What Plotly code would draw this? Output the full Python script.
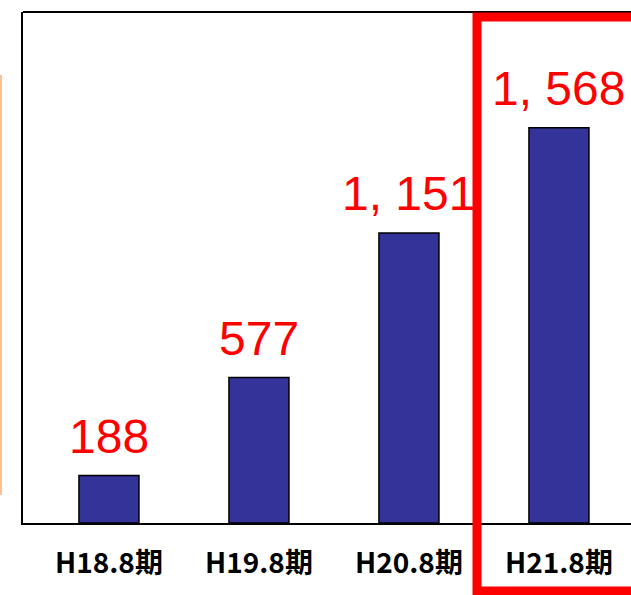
import plotly.graph_objects as go

categories = ["H18.8期", "H19.8期", "H20.8期", "H21.8期"]
values = [188, 577, 1151, 1568]
value_labels = ["188", "577", "1, 151", "1, 568"]

W, H = 631, 595
L, R, T, B = 23, 0, 12, 72
pw, ph = W - L - R, H - T - B

def px_x(px):
    return (px - L) / pw

def px_y(py):
    return (H - B - py) / ph

fig = go.Figure()
fig.add_trace(go.Bar(
    x=categories, y=values,
    marker=dict(color="#333399", line=dict(color="black", width=1.5)),
    width=0.4,
))

for c, v, t in zip(categories, values, value_labels):
    fig.add_annotation(x=c, y=v, xref="x", yref="y", text=t, showarrow=False,
                       yanchor="bottom", yshift=11,
                       font=dict(family="Liberation Sans, Arial", size=48, color="#FF0000"))

shapes = [
    # top border
    dict(type="line", xref="paper", yref="paper", x0=0, x1=1.05, y0=1, y1=1,
         line=dict(color="black", width=2)),
    # red highlight box
    dict(type="rect", xref="paper", yref="paper", x0=px_x(477), x1=px_x(660),
         y0=px_y(591), y1=px_y(17), line=dict(color="#FF0000", width=9)),
    # orange line on left
    dict(type="line", xref="paper", yref="paper", x0=px_x(1), x1=px_x(1),
         y0=px_y(495), y1=px_y(75), line=dict(color="#FFBF8F", width=2)),
]

fig.update_layout(
    width=W, height=H,
    margin=dict(l=L, r=R, t=T, b=B, pad=0),
    paper_bgcolor="white", plot_bgcolor="white",
    showlegend=False,
    shapes=shapes,
    xaxis=dict(range=[-0.573, -0.573 + pw / 150], showline=True, linecolor="black",
               linewidth=2, showgrid=False, ticks="", ticklabelstandoff=14,
               tickfont=dict(family="Noto Sans CJK JP", size=28, color="black", weight="bold")),
    yaxis=dict(range=[0, ph / 0.252], showline=True, linecolor="black", linewidth=2,
               showgrid=False, zeroline=False, showticklabels=False, ticks=""),
)

fig.write_html("out.html", config={"displayModeBar": False},
               post_script="document.body.style.margin='0';document.body.style.overflow='hidden';")
